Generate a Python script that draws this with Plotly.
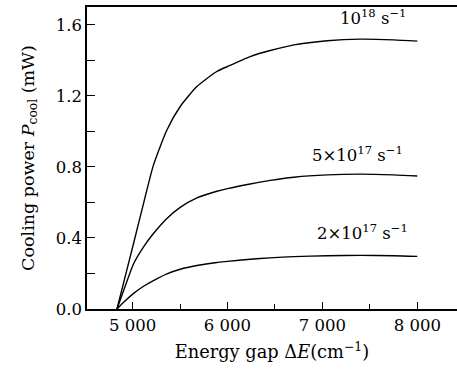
import plotly.graph_objects as go

energy = [4836, 4920, 5011, 5116, 5220, 5362, 5502, 5678, 5888, 6000, 6239, 6450, 6700, 7050, 7400, 7750, 8000]
p_1e18 = [0.0, 0.178, 0.37, 0.595, 0.81, 1.008, 1.14, 1.252, 1.337, 1.365, 1.421, 1.455, 1.487, 1.51, 1.519, 1.515, 1.508]
p_5e17 = [0.0, 0.125, 0.255, 0.35, 0.425, 0.51, 0.572, 0.625, 0.663, 0.678, 0.704, 0.724, 0.742, 0.755, 0.759, 0.755, 0.749]
p_2e17 = [0.0, 0.045, 0.088, 0.128, 0.16, 0.198, 0.224, 0.245, 0.262, 0.268, 0.28, 0.288, 0.295, 0.30, 0.302, 0.30, 0.296]

x_tickvals = [5000, 6000, 7000, 8000]
x_ticktext = ["5 000", "6 000", "7 000", "8 000"]
y_tickvals = [0.0, 0.4, 0.8, 1.2, 1.6]
y_ticktext = ["0.0", "0.4", "0.8", "1.2", "1.6"]

labels = ["10<sup>18</sup> s<sup>−1</sup>", "5×10<sup>17</sup> s<sup>−1</sup>", "2×10<sup>17</sup> s<sup>−1</sup>"]
label_x = [7534, 7365, 7418]
label_y = [1.645, 0.875, 0.432]

FONT = "DejaVu Serif"

fig = go.Figure()
for ys in (p_1e18, p_5e17, p_2e17):
    fig.add_trace(go.Scatter(x=energy, y=ys, mode="lines",
                             line=dict(color="black", width=1.4, shape="spline", smoothing=0.6),
                             showlegend=False))

for t, xv, yv in zip(labels, label_x, label_y):
    fig.add_annotation(x=xv, y=yv, text=t, showarrow=False,
                       font=dict(family=FONT, size=16.5, color="black"))

fig.update_layout(
    width=457, height=373,
    margin=dict(l=87, r=0, t=7, b=64),
    plot_bgcolor="white", paper_bgcolor="white",
    font=dict(family=FONT, size=16.5, color="black"),
)
fig.update_xaxes(
    range=[4520, 8418], showgrid=False, zeroline=False,
    showline=True, linecolor="black", linewidth=1.5, mirror=True,
    ticks="inside", ticklen=7, tickwidth=1.2, tickcolor="black",
    tickvals=x_tickvals, ticktext=x_ticktext,
    minor=dict(ticks="inside", ticklen=5, tickwidth=1.2, tickcolor="black",
               tickvals=[4500, 5500, 6500, 7500, 8500], showgrid=False),
    title=dict(text="Energy gap Δ<i>E</i>(cm<sup>−1</sup>)", font=dict(family=FONT, size=17.8), standoff=12),
    tickfont=dict(family=FONT, size=16.5),
)
fig.update_yaxes(
    range=[0, 1.7], showgrid=False, zeroline=False,
    showline=True, linecolor="black", linewidth=1.5,
    ticks="inside", ticklen=8, tickwidth=1.2, tickcolor="black",
    tickvals=y_tickvals, ticktext=y_ticktext,
    minor=dict(ticks="inside", ticklen=8, tickwidth=1.2, tickcolor="black",
               tickvals=[0.2, 0.6, 1.0, 1.4], showgrid=False),
    title=dict(text="Cooling power <i>P</i><sub>cool</sub> (mW)", font=dict(family=FONT, size=17.5), standoff=17),
    tickfont=dict(family=FONT, size=16.5),
)

fig.write_html("out.html")
